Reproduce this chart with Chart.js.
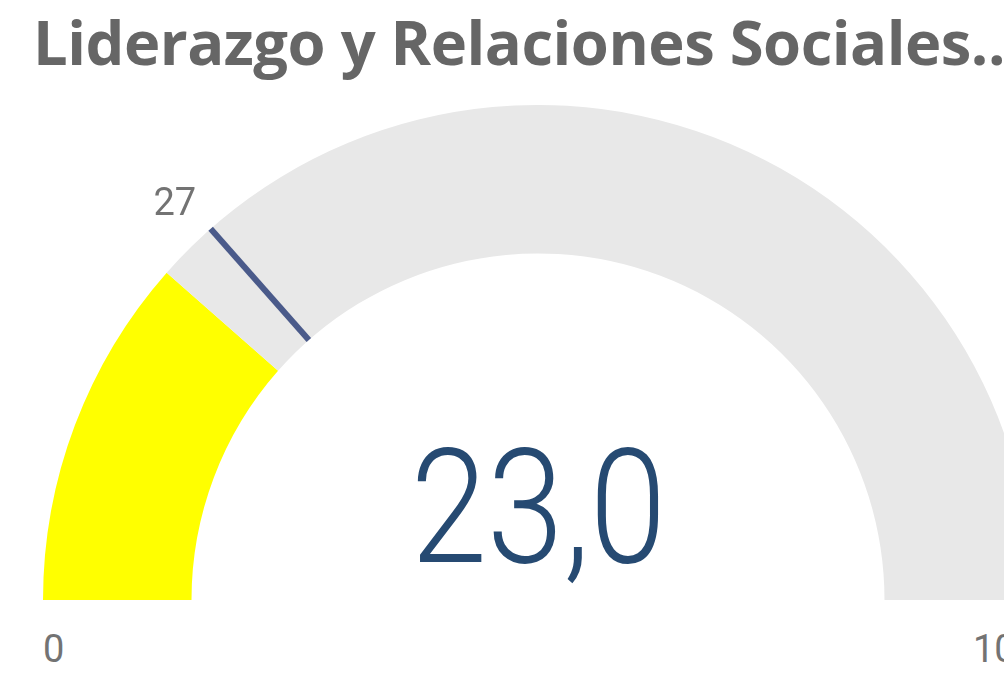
<!DOCTYPE html>
<html>
<head>
<meta charset="utf-8">
<script src="https://cdn.jsdelivr.net/npm/chart.js@4"></script>
<style>
  html, body { margin: 0; padding: 0; background: #fff; overflow: hidden; width: 1004px; height: 684px; }
  #title {
    position: absolute; left: 33px; top: -1px; margin: 0;
    font-family: "Open Sans", sans-serif; font-weight: 700; font-size: 61.5px;
    color: #666; white-space: nowrap; letter-spacing: -0.5px;
  }
  #gauge-wrap { position: absolute; left: 43px; top: 105px; width: 990px; height: 495px; }
  .lbl { position: absolute; font-family: Roboto, sans-serif; color: #737373; font-size: 38px; white-space: nowrap; }
  #value {
    position: absolute; font-family: Roboto, sans-serif; font-weight: 300; color: #264a72;
    font-size: 160px; line-height: 1; white-space: nowrap; transform-origin: center bottom;
  }
</style>
</head>
<body>
<h1 id="title">Liderazgo y Relaciones Sociales...</h1>
<div id="gauge-wrap"><canvas id="gauge"></canvas></div>
<div id="lbl-min" class="lbl"></div>
<div id="lbl-max" class="lbl"></div>
<div id="lbl-target" class="lbl"></div>
<div id="value"></div>
<script>
// gauge values
const minValue = 0;
const maxValue = 100;
const actualValue = 23;
const targetValue = 27;

const fillColor = "#ffff00";
const trackColor = "#e8e8e8";
const targetColor = "#4a5a8a";

const lblMin = document.getElementById("lbl-min");
const lblMax = document.getElementById("lbl-max");
const lblTarget = document.getElementById("lbl-target");
const valueDiv = document.getElementById("value");

// draws the target marker and places the labels using the arc geometry
const gaugeExtras = {
  id: "gaugeExtras",
  afterDraw(chart) {
    const arc = chart.getDatasetMeta(0).data[0];
    if (!arc) return;
    const { x, y, innerRadius, outerRadius } = arc;
    const ctx = chart.ctx;
    const frac = (targetValue - minValue) / (maxValue - minValue);
    const ang = Math.PI + frac * Math.PI;
    ctx.save();
    ctx.strokeStyle = targetColor;
    ctx.lineWidth = 6;
    ctx.beginPath();
    ctx.moveTo(x + Math.cos(ang) * innerRadius, y + Math.sin(ang) * innerRadius);
    ctx.lineTo(x + Math.cos(ang) * outerRadius, y + Math.sin(ang) * outerRadius);
    ctx.stroke();
    ctx.restore();

    const rect = chart.canvas.getBoundingClientRect();
    const cx = rect.left + x;
    const cy = rect.top + y;

    lblMin.textContent = String(minValue);
    lblMin.style.left = (cx - outerRadius) + "px";
    lblMin.style.top = (cy + 27) + "px";

    lblMax.textContent = String(maxValue);
    lblMax.style.left = (cx + outerRadius - 60) + "px";
    lblMax.style.top = (cy + 27) + "px";

    const lr = outerRadius + 35;
    lblTarget.textContent = String(targetValue);
    lblTarget.style.left = (cx + Math.cos(ang) * lr - 34) + "px";
    lblTarget.style.top = (cy + Math.sin(ang) * lr - 22) + "px";

    valueDiv.textContent = actualValue.toFixed(1).replace(".", ",");
    valueDiv.style.transform = "scaleX(0.86)";
    const w = valueDiv.offsetWidth;
    valueDiv.style.left = (cx - w / 2) + "px";
    valueDiv.style.top = (cy - 172) + "px";
  },
};

new Chart(document.getElementById("gauge").getContext("2d"), {
  type: "doughnut",
  data: {
    labels: ["Valor", "Restante"],
    datasets: [
      {
        data: [actualValue - minValue, maxValue - actualValue],
        backgroundColor: [fillColor, trackColor],
        borderWidth: 0,
        hoverOffset: 0,
      },
    ],
  },
  options: {
    responsive: true,
    maintainAspectRatio: false,
    animation: false,
    rotation: -90,
    circumference: 180,
    cutout: "70%",
    layout: { padding: 0 },
    plugins: { legend: { display: false }, tooltip: { enabled: false } },
  },
  plugins: [gaugeExtras],
});
</script>
</body>
</html>
